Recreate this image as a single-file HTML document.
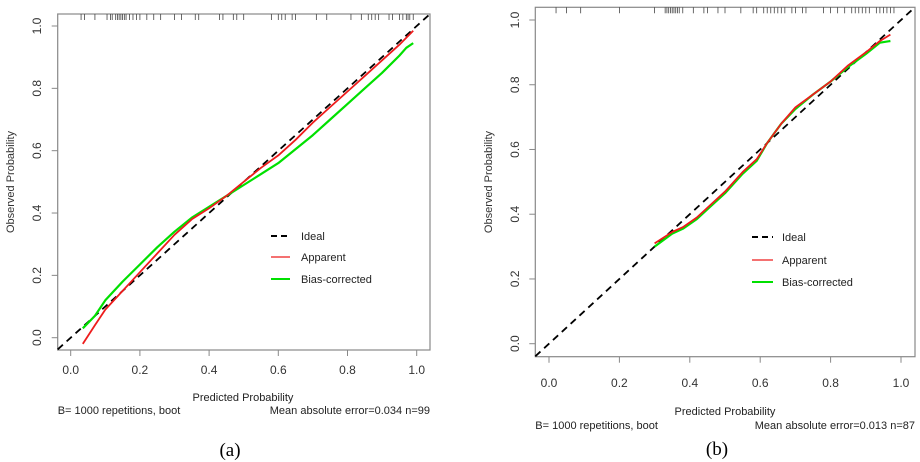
<!DOCTYPE html>
<html><head><meta charset="utf-8"><style>
body{margin:0;background:#fff;}
svg{display:block;font-family:"Liberation Sans",sans-serif;}
</style></head><body>
<svg id="chart" width="920" height="462" viewBox="0 0 920 462"></svg>
<script>
// Panel (a) data
const ticks = [0, 0.2, 0.4, 0.6, 0.8, 1.0];
const tickLabels = ["0.0","0.2","0.4","0.6","0.8","1.0"];
const rugA = [0.03,0.04,0.07,0.105,0.115,0.12,0.13,0.135,0.14,0.145,0.15,0.155,0.16,0.17,0.18,0.19,0.2,0.22,0.24,0.26,0.3,0.32,0.36,0.37,0.43,0.44,0.47,0.48,0.5,0.58,0.6,0.61,0.62,0.64,0.65,0.71,0.74,0.81,0.84,0.86,0.87,0.88,0.89,0.92,0.93,0.95,0.96,0.97,0.975,0.98,0.99];
const apparentAx = [0.035,0.07,0.1,0.15,0.2,0.25,0.3,0.35,0.4,0.45,0.5,0.55,0.6,0.65,0.7,0.75,0.8,0.85,0.9,0.95,0.99];
const apparentAy = [-0.02,0.04,0.09,0.15,0.21,0.27,0.33,0.38,0.415,0.455,0.5,0.545,0.585,0.635,0.69,0.74,0.79,0.84,0.89,0.94,0.985];
const biasAx = [0.035,0.07,0.1,0.15,0.2,0.25,0.3,0.35,0.4,0.45,0.5,0.55,0.6,0.65,0.7,0.75,0.8,0.85,0.9,0.95,0.97,0.99];
const biasAy = [0.03,0.07,0.12,0.18,0.235,0.29,0.34,0.385,0.42,0.455,0.49,0.525,0.56,0.605,0.65,0.7,0.75,0.8,0.85,0.905,0.93,0.945];
// Panel (b) data
const rugB = [0.02,0.05,0.09,0.2,0.3,0.33,0.335,0.34,0.345,0.35,0.355,0.36,0.365,0.37,0.38,0.41,0.44,0.45,0.48,0.5,0.545,0.58,0.59,0.61,0.62,0.63,0.64,0.65,0.66,0.67,0.69,0.7,0.72,0.73,0.78,0.8,0.82,0.84,0.86,0.87,0.88,0.89,0.9,0.91,0.93,0.94,0.95,0.96,0.97,0.98];
const apparentBx = [0.3,0.35,0.38,0.42,0.46,0.5,0.55,0.59,0.62,0.66,0.7,0.75,0.8,0.85,0.9,0.94,0.97];
const apparentBy = [0.31,0.345,0.36,0.39,0.43,0.47,0.53,0.57,0.62,0.68,0.73,0.77,0.81,0.86,0.9,0.935,0.955];
const biasBx = [0.3,0.35,0.38,0.42,0.46,0.5,0.55,0.59,0.62,0.66,0.7,0.75,0.8,0.85,0.9,0.94,0.97];
const biasBy = [0.3,0.34,0.355,0.385,0.425,0.465,0.525,0.565,0.62,0.68,0.725,0.77,0.81,0.855,0.895,0.93,0.935];

const svg = document.getElementById('chart');
const NS = 'http://www.w3.org/2000/svg';
function mk(tag, attrs, parent, text){
  const e = document.createElementNS(NS, tag);
  for (const k in attrs) e.setAttribute(k, attrs[k]);
  if (text !== undefined) e.textContent = text;
  (parent || svg).appendChild(e);
  return e;
}

function panel(p){
  const g = mk('g', {});
  
  
  const sx = v => p.x0 + v * (p.x1 - p.x0);
  const sy = v => p.y0 - v * (p.y0 - p.y1);
  // box
  const box = mk('rect', {x:p.bx0, y:p.by0, width:p.bx1-p.bx0, height:p.by1-p.by0, fill:'none', stroke:'#888', 'stroke-width':1.2}, g);
  
  
  // x ticks
  ticks.forEach((t,i) => {
    const tl = mk('line', {x1:sx(t), x2:sx(t), y1:p.by1, y2:p.by1+6, stroke:'#888'}, g);
    
    
    const tx = mk('text', {x:sx(t), y:p.xlabY, 'font-size':12, fill:'#333', 'text-anchor':'middle'}, g, tickLabels[i]);
    
    
    const yl = mk('line', {x1:p.bx0-6, x2:p.bx0, y1:sy(t), y2:sy(t), stroke:'#888'}, g);
    
    
    const ty = mk('text', {x:p.ylabX, y:sy(t), 'font-size':12, fill:'#333', 'text-anchor':'middle', transform:`rotate(-90 ${p.ylabX} ${sy(t)})`}, g, tickLabels[i]);
    
    
  });
  // rug
  p.rug.forEach(v => {
    const r = mk('line', {x1:sx(v), x2:sx(v), y1:p.by0, y2:p.by0+6, stroke:'#444', 'stroke-width':0.8}, g);
    
    
  });
  // ideal line clipped to box
  const lo = (p.bx0 - p.x0)/(p.x1-p.x0), hiX = (p.bx1 - p.x0)/(p.x1-p.x0), hiY = (p.y0 - p.by0)/(p.y0-p.y1);
  const hi = Math.min(hiX, hiY);
  const loY = (p.y0 - p.by1)/(p.y0-p.y1);
  const l0 = Math.max(lo, loY);
  const ideal = mk('line', {x1:sx(l0), y1:sy(l0), x2:sx(hi), y2:sy(hi), stroke:'#000', 'stroke-width':1.8, 'stroke-dasharray':'7,5'}, g);
  
  
  const pts = (xs, ys) => xs.map((x,i) => sx(x).toFixed(1)+','+sy(ys[i]).toFixed(1)).join(' ');
  const bc = mk('polyline', {points:pts(p.bx, p.by), fill:'none', stroke:'#00e000', 'stroke-width':2.2, 'stroke-linejoin':'round'}, g);
  
  
  const ap = mk('polyline', {points:pts(p.ax, p.ay), fill:'none', stroke:'#ee1c1c', 'stroke-width':1.8, 'stroke-linejoin':'round'}, g);
  
  
  // legend
  const lg = mk('g', {}, g);
  
  
  const items = [['Ideal','#000','6,4',2],['Apparent','#ee1c1c','',1.2],['Bias-corrected','#00e000','',2]];
  items.forEach((it,i) => {
    const y = p.legY[i];
    const ln = mk('line', {x1:p.legX0, x2:p.legX1, y1:y, y2:y, stroke:it[1], 'stroke-width':it[3], 'stroke-dasharray':it[2]}, lg);
    
    
    const t = mk('text', {x:p.legT, y:y+4, 'font-size':11, fill:'#222'}, lg, it[0]);
    
    
  });
  const xt = mk('text', {x:p.xtX, y:p.xtY, 'font-size':11, fill:'#222', 'text-anchor':'middle'}, g, 'Predicted Probability');
  
  
  const yt = mk('text', {x:p.ytX, y:(p.by0+p.by1)/2, 'font-size':11, fill:'#333', 'text-anchor':'middle', transform:`rotate(-90 ${p.ytX} ${(p.by0+p.by1)/2})`}, g, 'Observed  Probability');
  
  
  const f1 = mk('text', {x:p.bx0, y:p.footY, 'font-size':11, fill:'#222'}, g, 'B= 1000 repetitions, boot');
  
  
  const f2 = mk('text', {x:p.bx1, y:p.footY, 'font-size':11, fill:'#222', 'text-anchor':'end'}, g, p.mae);
  
  
  const cap = mk('text', {x:p.capX, y:p.capY, 'font-size':19, fill:'#000', 'text-anchor':'middle', 'font-family':'Liberation Serif, serif'}, g, p.cap);
  
  
}

panel({id:'a', bx0:57.7, bx1:430, by0:14, by1:350, x0:70.7, x1:416.7, y0:337.7, y1:26,
  xlabY:374, ylabX:41, rug:rugA, ax:apparentAx, ay:apparentAy, bx:biasAx, by:biasAy,
  legX0:271, legX1:290, legT:301, legY:[236,257,279], xtX:243, xtY:401, ytX:14,
  footY:414, mae:'Mean absolute error=0.034 n=99', cap:'(a)', capX:230, capY:456});
panel({id:'b', bx0:535.3, bx1:915, by0:7.3, by1:356.7, x0:549, x1:901, y0:343.7, y1:20,
  xlabY:387, ylabX:519, rug:rugB, ax:apparentBx, ay:apparentBy, bx:biasBx, by:biasBy,
  legX0:752, legX1:773, legT:782, legY:[237,260,282], xtX:725, xtY:415, ytX:492,
  footY:429, mae:'Mean absolute error=0.013 n=87', cap:'(b)', capX:717, capY:455});
</script>
</body></html>
